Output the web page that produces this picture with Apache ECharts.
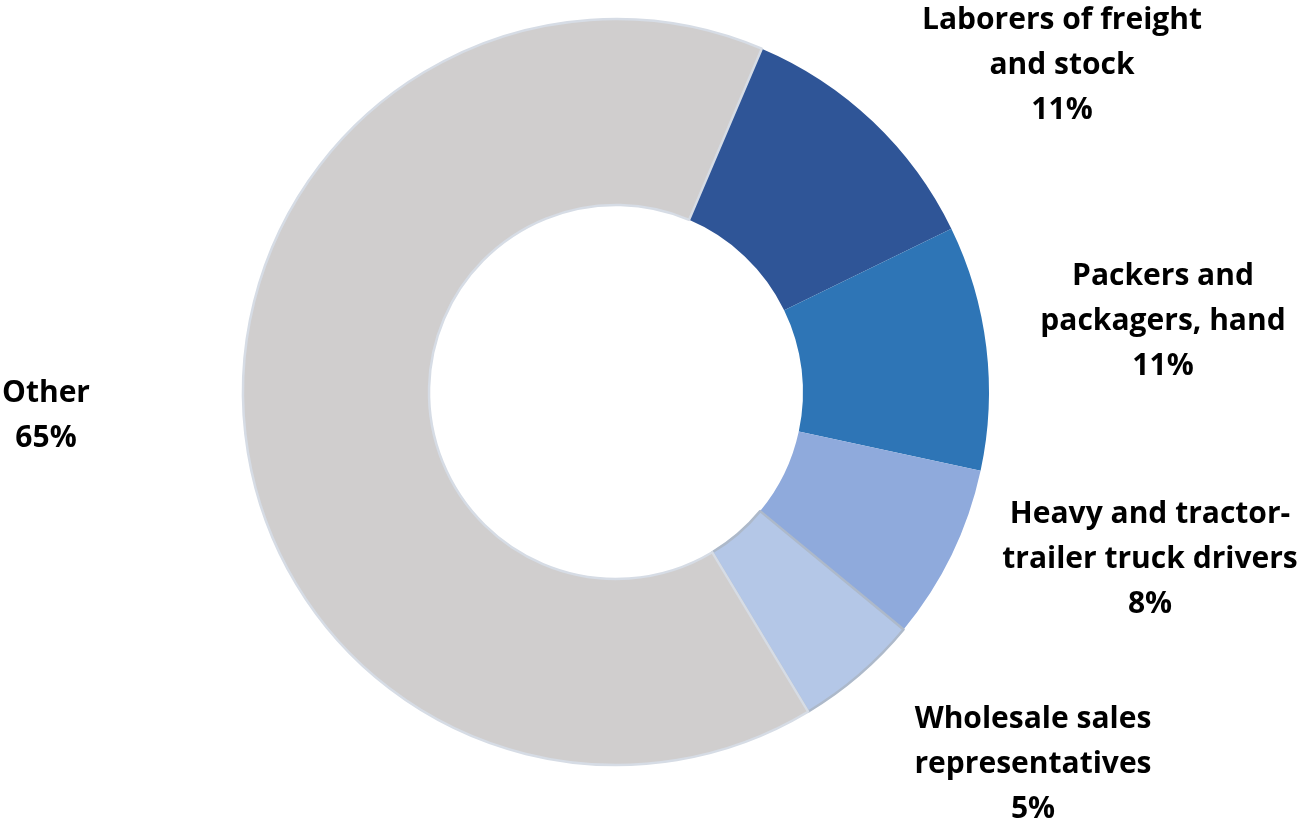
<!DOCTYPE html>
<html>
<head>
<meta charset="utf-8">
<script src="https://cdn.jsdelivr.net/npm/echarts@6/dist/echarts.min.js"></script>
<style>
html,body{margin:0;padding:0;background:#fff;}
#chart{width:1300px;height:822px;}
</style>
</head>
<body>
<div id="chart"></div>
<script>
const categories = [
  "Laborers of freight\nand stock",
  "Packers and\npackagers, hand",
  "Heavy and tractor-\ntrailer truck drivers",
  "Wholesale sales\nrepresentatives",
  "Other"
];
const values = [11.4, 10.6, 7.6, 5.4, 65.0];
const colors = ["#2F5597", "#2E75B6", "#8FAADC", "#B4C7E7", "#D0CECE"];
const borderColors = [null, null, null, "#ADB9CA", "#D6DCE5"];
const labelPos = [[1062, 65], [1163, 321], [1150, 559], [1033, 764], [46, 416]];

const chart = echarts.init(document.getElementById('chart'), null, {renderer: 'canvas'});
const data = categories.map((c, i) => {
  const item = {name: c, value: values[i], itemStyle: {color: colors[i]}};
  if (borderColors[i]) {
    item.itemStyle.borderColor = borderColors[i];
    item.itemStyle.borderWidth = 2.5;
  } else {
    item.itemStyle.borderWidth = 0;
  }
  return item;
});

chart.setOption({
  animation: false,
  series: [{
    type: 'pie',
    center: [616, 392],
    radius: [187, 373],
    startAngle: 67,
    clockwise: true,
    avoidLabelOverlap: false,
    data: data,
    label: {
      show: true,
      position: 'outside',
      formatter: p => p.name + '\n' + Math.round(p.percent) + '%',
      fontFamily: '"Open Sans", Lato, sans-serif',
      fontWeight: 'bold',
      fontSize: 30,
      lineHeight: 45,
      color: '#000',
      align: 'center'
    },
    labelLine: {show: false},
    labelLayout: function (params) {
      const p = labelPos[params.dataIndex];
      return {x: p[0], y: p[1], align: 'center', verticalAlign: 'middle'};
    },
    emphasis: {disabled: true}
  }]
});
</script>
</body>
</html>
